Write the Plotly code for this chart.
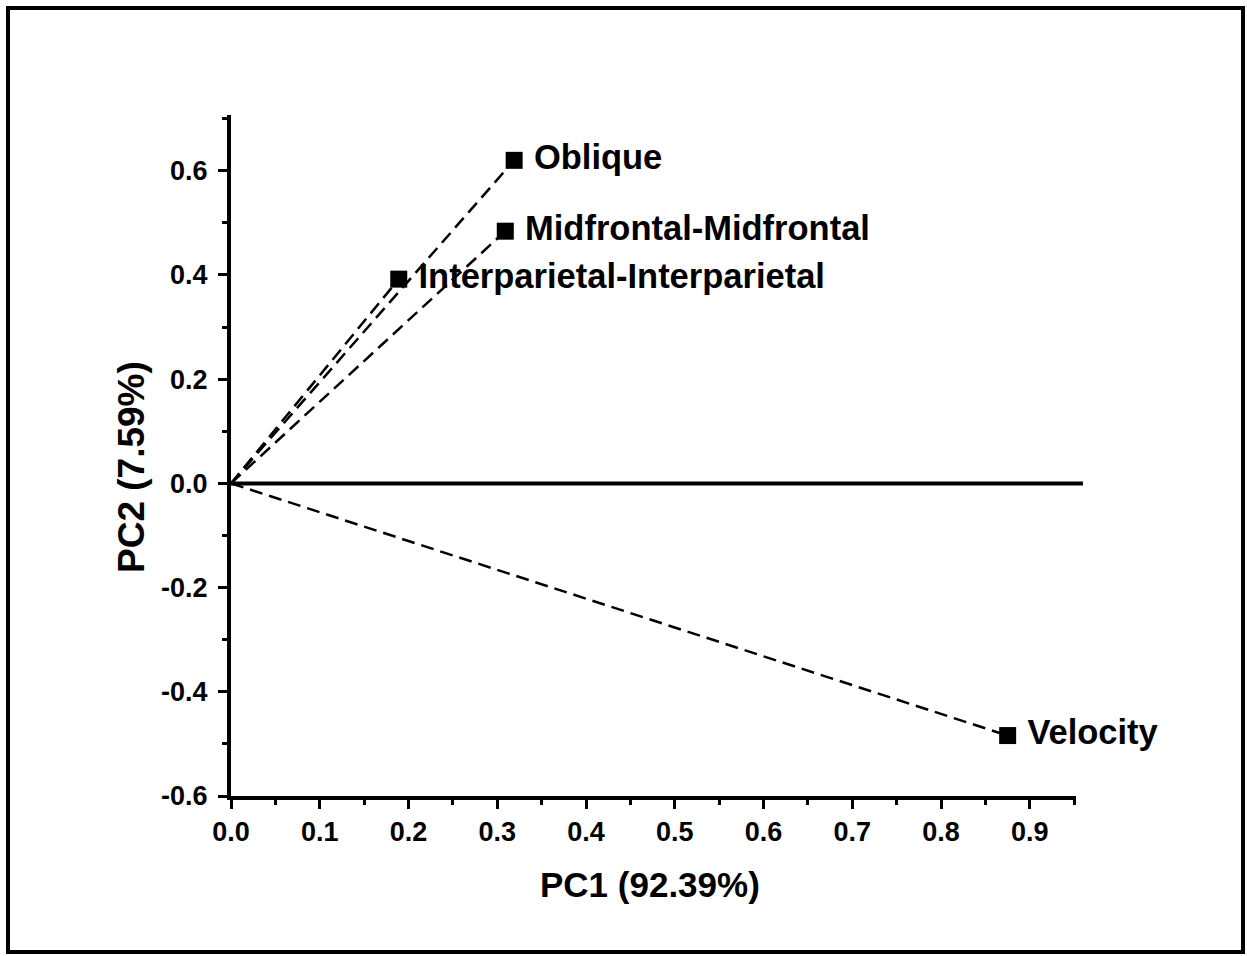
import plotly.graph_objects as go

variables = ["Oblique", "Midfrontal-Midfrontal", "Interparietal-Interparietal", "Velocity"]
pc1 = [0.319, 0.309, 0.189, 0.875]
pc2 = [0.620, 0.484, 0.392, -0.484]

x_ticks = [0.0, 0.1, 0.2, 0.3, 0.4, 0.5, 0.6, 0.7, 0.8, 0.9]
x_tick_labels = ["0.0", "0.1", "0.2", "0.3", "0.4", "0.5", "0.6", "0.7", "0.8", "0.9"]
y_ticks = [-0.6, -0.4, -0.2, 0.0, 0.2, 0.4, 0.6]
y_tick_labels = ["-0.6", "-0.4", "-0.2", "0.0", "0.2", "0.4", "0.6"]

x_title = "PC1 (92.39%)"
y_title = "PC2 (7.59%)"

FONT = "Liberation Sans, Arial, sans-serif"

fig = go.Figure()
for name, x, y in zip(variables, pc1, pc2):
    fig.add_trace(go.Scatter(
        x=[0, x], y=[0, y], mode="lines",
        line=dict(color="black", width=2.5, dash="13px,7px"),
        showlegend=False, hoverinfo="skip"))

fig.add_trace(go.Scatter(
    x=pc1, y=pc2, mode="markers",
    marker=dict(symbol="square", size=17, color="black"),
    showlegend=False, cliponaxis=False))

fig.add_trace(go.Scatter(
    x=pc1, y=pc2, mode="text+markers",
    marker=dict(size=30, color="rgba(0,0,0,0)"),
    text=variables, textposition="middle right",
    textfont=dict(family=FONT, size=34.5, color="black", weight="bold"),
    showlegend=False, cliponaxis=False, hoverinfo="skip"))

W, H = 1247, 956
L, R, T, B = 231, 171, 115, 160
pw, ph = W - L - R, H - T - B

def px_x(p):
    return (p - L) / pw

def px_y(p):
    return (H - B - p) / ph

fig.add_shape(type="rect", xref="paper", yref="paper",
              x0=px_x(8), x1=px_x(1243), y0=px_y(952), y1=px_y(8),
              line=dict(color="black", width=4), layer="below")
fig.add_shape(type="line", xref="paper", yref="y",
              x0=0, x1=px_x(1083), y0=0, y1=0,
              line=dict(color="black", width=4))

fig.add_annotation(xref="paper", yref="paper", x=px_x(650), y=px_y(885),
                   text=x_title, showarrow=False, xanchor="center", yanchor="middle",
                   font=dict(family=FONT, size=35, color="black", weight="bold"))
fig.add_annotation(xref="paper", yref="paper", x=px_x(131), y=px_y(467),
                   text=y_title, showarrow=False, xanchor="center", yanchor="middle",
                   textangle=-90,
                   font=dict(family=FONT, size=37, color="black", weight="bold"))

axis_common = dict(
    showgrid=False, zeroline=False,
    showline=True, linewidth=4, linecolor="black",
    ticks="outside", ticklen=9, tickwidth=3, tickcolor="black",
    tickfont=dict(family=FONT, size=27, color="black", weight="bold"),
)

fig.update_layout(
    width=W, height=H,
    margin=dict(l=L, r=R, t=T, b=B),
    paper_bgcolor="white", plot_bgcolor="white",
    font=dict(family=FONT, color="black"),
    xaxis=dict(
        range=[0, 0.952], tickmode="array", tickvals=x_ticks, ticktext=x_tick_labels,
        minor=dict(ticks="outside", ticklen=5, tickwidth=3, tickcolor="black",
                   tick0=0, dtick=0.05, showgrid=False),
        **axis_common,
    ),
    yaxis=dict(
        range=[-0.6, 0.707], tickmode="array", tickvals=y_ticks, ticktext=y_tick_labels,
        ticklabelstandoff=5,
        minor=dict(ticks="outside", ticklen=5, tickwidth=3, tickcolor="black",
                   tick0=0, dtick=0.1, showgrid=False),
        **axis_common,
    ),
)

fig.write_html("out.html")
